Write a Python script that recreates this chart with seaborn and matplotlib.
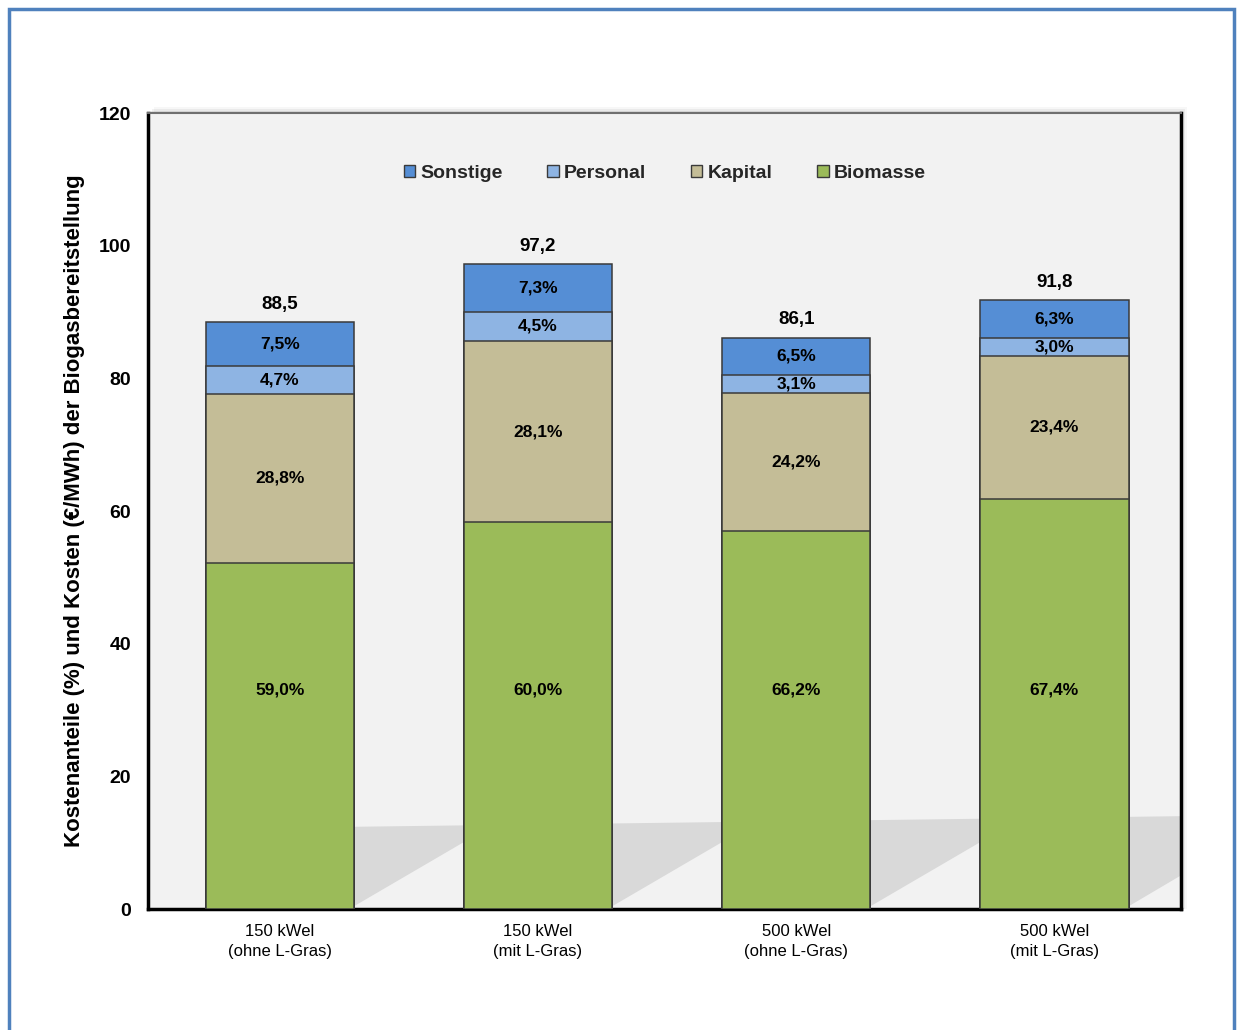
import numpy as np
import pandas as pd
import matplotlib.pyplot as plt
from matplotlib.patches import Rectangle, Polygon, Patch
import seaborn as sns

# values
categories = ["150 kWel\n(ohne L-Gras)", "150 kWel\n(mit L-Gras)",
              "500 kWel\n(ohne L-Gras)", "500 kWel\n(mit L-Gras)"]
totals = [88.5, 97.2, 86.1, 91.8]                 # €/MWh
pct_biomasse = [59.0, 60.0, 66.2, 67.4]
pct_kapital = [28.8, 28.1, 24.2, 23.4]
pct_personal = [4.7, 4.5, 3.1, 3.0]
pct_sonstige = [7.5, 7.3, 6.5, 6.3]

series = ["Biomasse", "Kapital", "Personal", "Sonstige"]
colors = {"Biomasse": "#9bbb59", "Kapital": "#c4bd97",
          "Personal": "#8eb4e3", "Sonstige": "#558ed5"}

df = pd.DataFrame({"Kategorie": categories, "Gesamt": totals,
                   "Biomasse": pct_biomasse, "Kapital": pct_kapital,
                   "Personal": pct_personal, "Sonstige": pct_sonstige})

# cumulative tops of each segment in €/MWh
cum = np.cumsum(df[series].values, axis=1) / 100 * df[["Gesamt"]].values
for j, s in enumerate(series):
    df["top_" + s] = cum[:, j]
df["top_Sonstige"] = df["Gesamt"]

sns.set_style("white")
plt.rcParams["font.family"] = ["Liberation Sans", "DejaVu Sans"]

W, H = 1237, 1030
fig = plt.figure(figsize=(W / 100, H / 100), dpi=100)
ax = fig.add_axes([148 / W, 1 - 909 / H, (1181 - 148) / W, (909 - 113) / H])
ax.set_facecolor("#f2f2f2")
ax.set_zorder(2)

# soft shadow of the plot area (top / right), drawn under the axes
for k, a in [(6, 0.06), (4, 0.10), (2, 0.16)]:
    fig.patches.append(Rectangle(((148 + k) / W, (1 - 909 / H)),
                                 (1181 - 148) / W, (909 - 113 + k) / H,
                                 transform=fig.transFigure, facecolor="#808080",
                                 edgecolor="none", alpha=a, zorder=-1))

# blue frame around the figure
fig.patches.append(Rectangle((8.5 / W, -0.05), (1234 - 8.5) / W, 1 - 9 / H + 0.05,
                             transform=fig.transFigure, fill=False,
                             edgecolor="#4f81bd", linewidth=2.5, zorder=-1))

bw = 0.574
x_right = 3.49
# floor shadows between bars
for i in range(len(categories)):
    x0 = i + bw / 2
    x1 = i + 1 - bw / 2 if i < len(categories) - 1 else x_right
    ytop = lambda x: 12 + (x + 0.5) * 0.5
    ylow1 = min(0.5 + 22.5 * (x1 - x0), ytop(x1))
    ax.add_patch(Polygon([(x0, 0.4), (x0, ytop(x0)), (x1, ytop(x1)), (x1, ylow1)],
                         closed=True, facecolor="#d9d9d9", edgecolor="none", zorder=1))

for s in ["Sonstige", "Personal", "Kapital", "Biomasse"]:
    sns.barplot(data=df, x="Kategorie", y="top_" + s, color=colors[s], saturation=1,
                width=bw, edgecolor="#3a3a3a", linewidth=1.1, ax=ax, zorder=3)

fmt = lambda v: f"{v:.1f}".replace(".", ",")
for i in range(len(categories)):
    bottom = 0
    for s in series:
        top = df.loc[i, "top_" + s]
        y = 33 if s == "Biomasse" else (bottom + top) / 2
        ax.text(i, y, fmt(df.loc[i, s]) + "%", ha="center", va="center",
                fontsize=12.5, fontweight="bold", color="black", zorder=4)
        bottom = top
    ax.text(i, df.loc[i, "Gesamt"] + 2.7, fmt(df.loc[i, "Gesamt"]), ha="center",
            va="center", fontsize=13.5, fontweight="bold", color="black", zorder=4)

ax.set_xlim(-0.51, x_right)
ax.set_ylim(0, 120)
ax.set_yticks(range(0, 121, 20))
ax.set_xlabel("")
ax.set_ylabel("Kostenanteile (%) und Kosten (€/MWh) der Biogasbereitstellung",
              fontsize=16, fontweight="bold", color="black")
ax.yaxis.set_label_coords(-0.061, 0.5)
ax.tick_params(axis="y", length=6, width=2, direction="out", labelsize=14, pad=6,
               color="black", labelcolor="black")
ax.tick_params(axis="x", length=0, labelsize=12, pad=11, labelcolor="black")
for lbl in ax.get_yticklabels():
    lbl.set_fontweight("bold")
for lbl in ax.get_xticklabels():
    lbl.set_linespacing(1.4)

for side in ["left", "bottom", "right"]:
    ax.spines[side].set_visible(True)
    ax.spines[side].set_color("black")
    ax.spines[side].set_linewidth(2.5)
ax.spines["top"].set_visible(True)
ax.spines["top"].set_color("#707070")
ax.spines["top"].set_linewidth(1.5)

handles = [Patch(facecolor=colors[s], edgecolor="#3a3a3a", linewidth=1) for s in series[::-1]]
ax.legend(handles, series[::-1], loc="center", bbox_to_anchor=(0.5, 0.924), ncol=4,
          frameon=False, handlelength=0.6, handleheight=0.6, handletextpad=0.25,
          columnspacing=2.3, prop={"weight": "bold", "size": 14})

fig.savefig("out.png", dpi=100)
